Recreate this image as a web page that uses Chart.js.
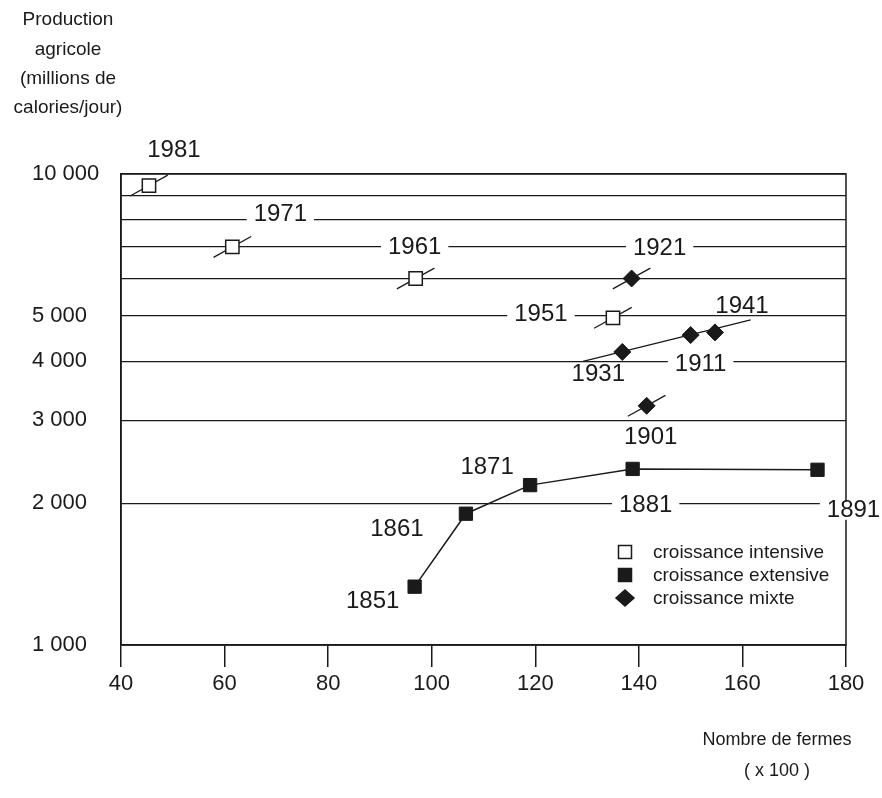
<!DOCTYPE html>
<html>
<head>
<meta charset="utf-8">
<script src="https://cdn.jsdelivr.net/npm/chart.js@4"></script>
<style>
  html, body { margin: 0; padding: 0; background: #fff; }
  #wrap { width: 882px; height: 798px; position: relative; }
</style>
</head>
<body>
<div id="wrap"><canvas id="chart"></canvas></div>
<script>
const ink = '#1a1a1a';
const font = '"Liberation Sans", Arial, Helvetica, sans-serif';

// croissance intensive
const intensiveYears = [1951, 1961, 1971, 1981];
const intensiveFarms = [135.0, 96.9, 61.5, 45.4];
const intensiveProd = [4950, 6000, 7000, 9450];

// croissance extensive
const extensiveYears = [1851, 1861, 1871, 1881, 1891];
const extensiveFarms = [96.7, 106.6, 119.0, 138.8, 174.5];
const extensiveProd = [1330, 1900, 2185, 2365, 2355];

// croissance mixte
const mixedYears = [1901, 1911, 1921, 1931, 1941];
const mixedFarms = [141.5, 150.0, 138.6, 136.8, 154.7];
const mixedProd = [3220, 4550, 6000, 4190, 4610];

// trend line through 1931-1911-1941
const trendFarms = [129.2, 161.6];
const trendProd = [4000, 4900];

// years drawn with a short direction stroke
const strokeYears = [1981, 1971, 1961, 1951, 1921, 1901];

const xTicks = [40, 60, 80, 100, 120, 140, 160, 180];
const yGrid = [1000, 2000, 3000, 4000, 5000, 6000, 7000, 8000, 9000, 10000];
const yTickLabels = [1000, 2000, 3000, 4000, 5000, 10000];

const legendLabels = ['croissance intensive', 'croissance extensive', 'croissance mixte'];
const yTitle = ['Production', 'agricole', '(millions de', 'calories/jour)'];
const xTitle = ['Nombre de fermes', '( x 100 )'];

// where each year label sits, in pixels from its point
const labelOffsets = {
  1981: [25, -35], 1971: [48, -33], 1961: [-1, -31], 1951: [-72, -3],
  1921: [28, -30], 1941: [27, -26], 1931: [-24, 22], 1911: [10, 29],
  1901: [4, 32], 1891: [36, 41], 1881: [13, 36], 1871: [-43, -18],
  1861: [-69, 16], 1851: [-42, 15]
};
// labels that sit on a line and cut it
const boxedYears = [1971, 1961, 1951, 1921, 1911, 1881, 1891];

const allYears = [...intensiveYears, ...extensiveYears, ...mixedYears];
const allFarms = [...intensiveFarms, ...extensiveFarms, ...mixedFarms];
const allProd = [...intensiveProd, ...extensiveProd, ...mixedProd];

const toPoints = (xs, ys) => xs.map((x, i) => ({x: x, y: ys[i]}));
const fmt = v => String(v).replace(/\B(?=(\d{3})+(?!\d))/g, ' ');

const strokePoints = strokeYears.map(yr => {
  const i = allYears.indexOf(yr);
  return {x: allFarms[i], y: allProd[i]};
});

const frame = {
  id: 'frame',
  beforeDatasetsDraw(chart) {
    const {ctx, chartArea: a} = chart;
    ctx.save();
    ctx.strokeStyle = ink;
    ctx.lineWidth = 1.5;
    ctx.strokeRect(a.left, a.top, a.right - a.left, a.bottom - a.top);
    ctx.restore();
  }
};

const yearLabels = {
  id: 'yearLabels',
  afterDatasetsDraw(chart) {
    const {ctx, scales: {x, y}} = chart;
    ctx.save();
    ctx.font = '24px ' + font;
    ctx.textAlign = 'center';
    ctx.textBaseline = 'middle';
    allYears.forEach((yr, i) => {
      const off = labelOffsets[yr];
      const cx = x.getPixelForValue(allFarms[i]) + off[0];
      const cy = y.getPixelForValue(allProd[i]) + off[1];
      const txt = String(yr);
      if (boxedYears.includes(yr)) {
        const w = ctx.measureText(txt).width;
        ctx.fillStyle = '#fff';
        ctx.fillRect(cx - w / 2 - 7, cy - 9, w + 14, 18);
      }
      ctx.fillStyle = ink;
      ctx.fillText(txt, cx, cy);
    });
    ctx.restore();
  }
};

const legendBox = {
  id: 'legendBox',
  afterDatasetsDraw(chart) {
    const ctx = chart.ctx;
    const rows = [552, 575, 598];
    ctx.save();
    ctx.font = '19px ' + font;
    ctx.textAlign = 'left';
    ctx.textBaseline = 'middle';
    chart.data.datasets.slice(0, 3).forEach((ds, i) => {
      const cx = 625, cy = rows[i];
      ctx.fillStyle = ds.pointBackgroundColor;
      ctx.strokeStyle = ds.pointBorderColor;
      ctx.lineWidth = 1.5;
      ctx.beginPath();
      if (ds.pointStyle === 'rectRot') {
        ctx.moveTo(cx, cy - 8);
        ctx.lineTo(cx + 9, cy);
        ctx.lineTo(cx, cy + 8);
        ctx.lineTo(cx - 9, cy);
        ctx.closePath();
      } else {
        ctx.rect(cx - 6.5, cy - 6.5, 13, 13);
      }
      ctx.fill();
      ctx.stroke();
      ctx.fillStyle = ink;
      ctx.fillText(ds.label, 653, cy + 1);
    });
    ctx.restore();
  }
};

const titles = {
  id: 'titles',
  afterDraw(chart) {
    const ctx = chart.ctx;
    ctx.save();
    ctx.fillStyle = ink;
    ctx.font = '19px ' + font;
    ctx.textAlign = 'center';
    ctx.textBaseline = 'middle';
    yTitle.forEach((t, i) => ctx.fillText(t, 68, 20 + i * 29.3));
    ctx.font = '18px ' + font;
    xTitle.forEach((t, i) => ctx.fillText(t, 777, 740 + i * 31));
    ctx.restore();
  }
};

new Chart(document.getElementById('chart'), {
  type: 'scatter',
  data: {
    datasets: [
      {
        label: legendLabels[0],
        data: toPoints(intensiveFarms, intensiveProd),
        showLine: false,
        pointStyle: 'rect',
        pointRadius: 9.4,
        pointBackgroundColor: '#fff',
        pointBorderColor: ink,
        pointBorderWidth: 1.5
      },
      {
        label: legendLabels[1],
        data: toPoints(extensiveFarms, extensiveProd),
        showLine: true,
        borderColor: ink,
        borderWidth: 1.5,
        pointStyle: 'rect',
        pointRadius: 9.4,
        pointBackgroundColor: ink,
        pointBorderColor: ink,
        pointBorderWidth: 1
      },
      {
        label: legendLabels[2],
        data: toPoints(mixedFarms, mixedProd),
        showLine: false,
        pointStyle: 'rectRot',
        pointRadius: 8.5,
        pointBackgroundColor: ink,
        pointBorderColor: ink,
        pointBorderWidth: 1
      },
      {
        label: 'tendance',
        data: toPoints(trendFarms, trendProd),
        showLine: true,
        borderColor: ink,
        borderWidth: 1.3,
        pointRadius: 0
      },
      {
        label: 'direction',
        data: strokePoints,
        showLine: false,
        pointStyle: 'line',
        pointRadius: 21.5,
        pointRotation: -29,
        pointBorderColor: ink,
        pointBorderWidth: 1.3
      }
    ]
  },
  options: {
    responsive: true,
    maintainAspectRatio: false,
    animation: false,
    layout: { padding: { left: 32, top: 174, right: 36, bottom: 0 } },
    plugins: {
      legend: { display: false },
      tooltip: { enabled: false }
    },
    scales: {
      x: {
        type: 'linear',
        min: 40,
        max: 180,
        afterBuildTicks: scale => { scale.ticks = xTicks.map(v => ({value: v})); },
        afterFit: scale => { scale.height = 153; },
        grid: { drawOnChartArea: false, drawTicks: true, tickLength: 22, color: ink, lineWidth: 1.5 },
        border: { display: true, color: ink, width: 1.5 },
        ticks: { color: ink, font: { family: font, size: 22 }, padding: 4, autoSkip: false, maxRotation: 0 }
      },
      y: {
        type: 'logarithmic',
        min: 1000,
        max: 10000,
        afterBuildTicks: scale => { scale.ticks = yGrid.map(v => ({value: v})); },
        afterFit: scale => { scale.width = 89; },
        grid: { drawTicks: false, color: ink, lineWidth: 1.3 },
        border: { display: true, color: ink, width: 1.5 },
        ticks: {
          color: ink,
          font: { family: font, size: 22 },
          crossAlign: 'far',
          autoSkip: false,
          callback: v => yTickLabels.includes(Math.round(v)) ? fmt(Math.round(v)) : ''
        }
      }
    }
  },
  plugins: [frame, yearLabels, legendBox, titles]
});
</script>
</body>
</html>
